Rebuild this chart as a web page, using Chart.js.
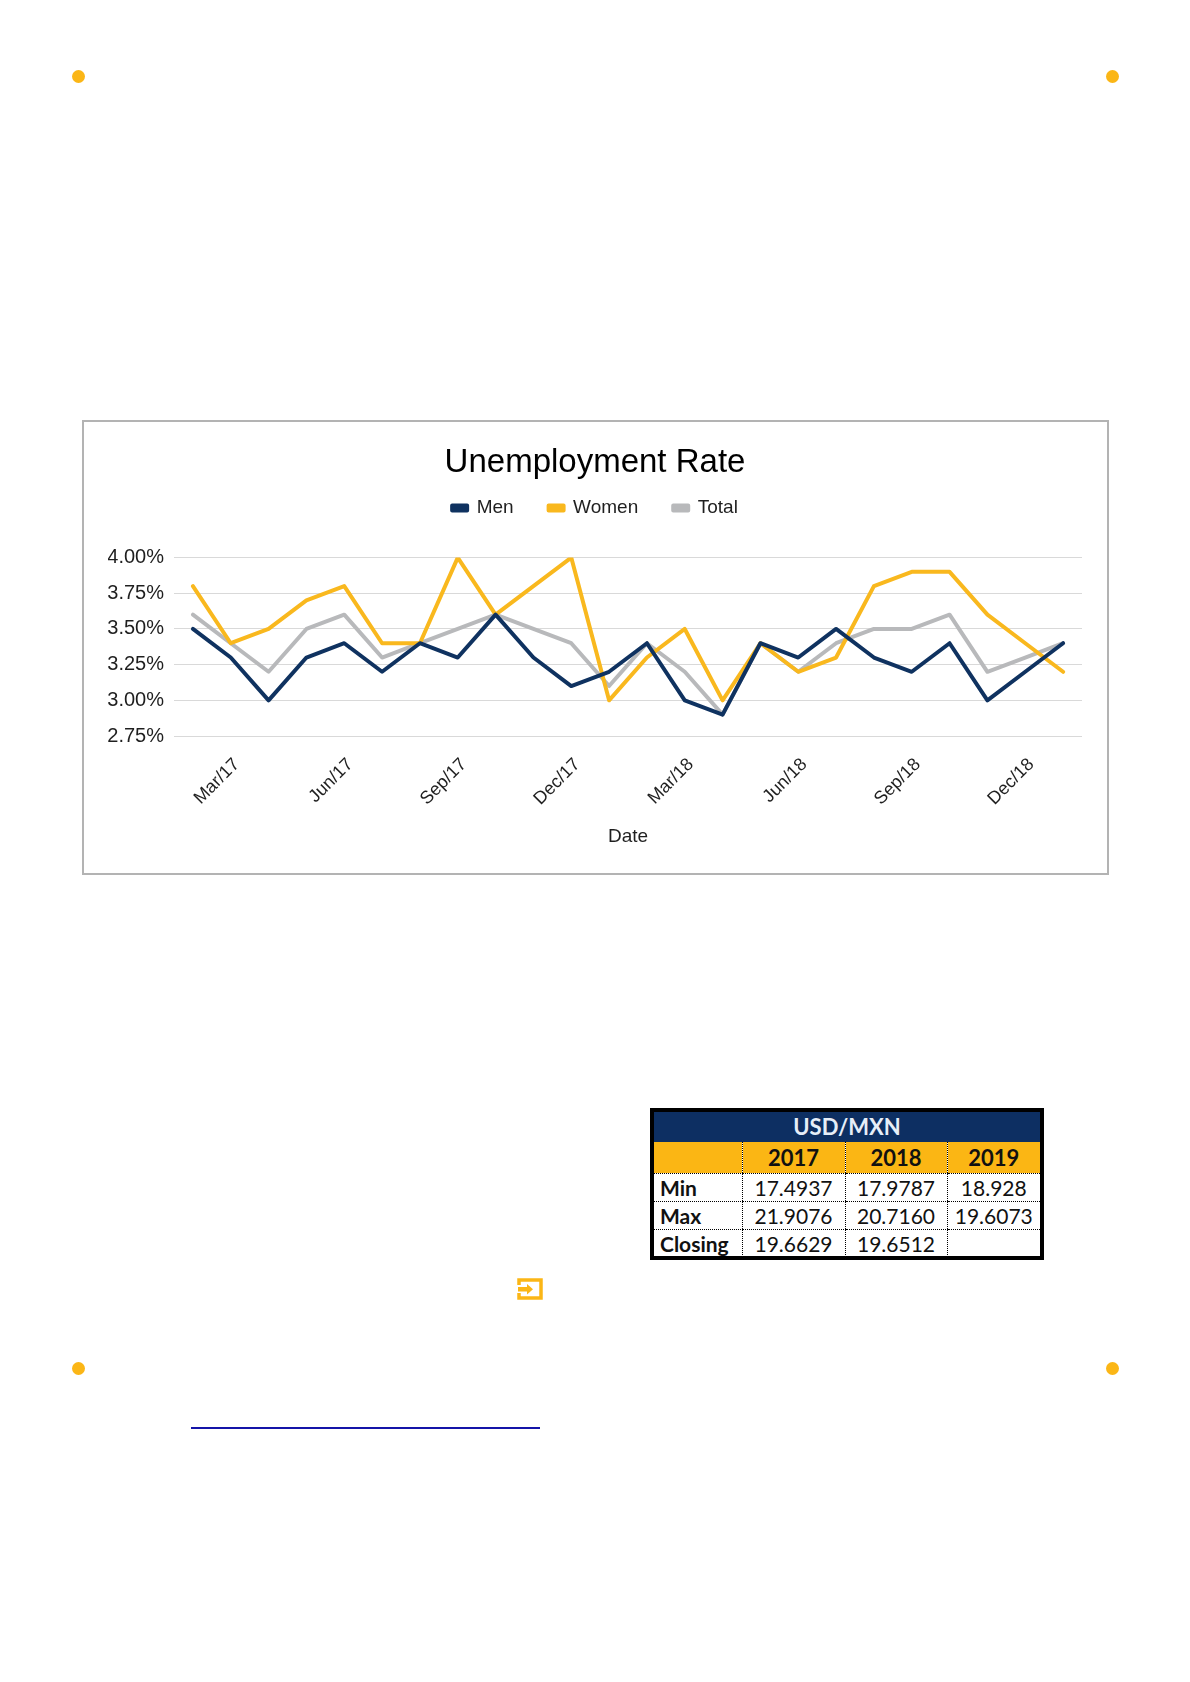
<!DOCTYPE html>
<html>
<head>
<meta charset="utf-8">
<script src="https://cdn.jsdelivr.net/npm/chart.js@4.4.1/dist/chart.umd.min.js"></script>
<style>
    html, body { margin: 0; padding: 0; background: #fff; }
    body { width: 1190px; height: 1682px; position: relative; overflow: hidden; }
    .dot { position: absolute; width: 13px; height: 13px; border-radius: 50%; background: #fbb616; }
    #chartBox {
        position: absolute; left: 82px; top: 420px; width: 1027px; height: 455px;
        border: 2px solid #b3b3b3; box-sizing: border-box; background: #fff;
    }
    #chartBox canvas { display: block; }
    #fx {
        position: absolute; left: 650px; top: 1108px; width: 394px; height: 152px;
        border: 4px solid #000; box-sizing: border-box;
        font-family: Lato, 'Open Sans', sans-serif; font-size: 21px; color: #111;
    }
    #fx table { border-collapse: collapse; width: 100%; table-layout: fixed; }
    #fx td { padding: 0; height: 27px; line-height: 27px; text-align: center; white-space: nowrap; overflow: hidden; }
    #fx .head td { background: #0d2f62; color: #e6eef8; font-weight: bold; height: 30px; line-height: 30px; font-size: 22px; }
    #fx .years td { background: #fbb614; font-weight: bold; height: 31px; line-height: 31px; font-size: 22px; border-bottom: 1.5px dotted #000; }
    #fx .years td + td, #fx .row td + td { border-left: 1.5px dotted #000; }
    #fx .row td { border-bottom: 1.5px dotted #000; }
    #fx .row.last td { border-bottom: none; }
    #fx td.lbl { text-align: left; padding-left: 6px; font-weight: bold; }
    #icon { position: absolute; left: 517px; top: 1278px; }
    #link { position: absolute; left: 191px; top: 1427px; width: 349px; height: 2px; background: #1414a8; }
</style>
</head>
<body>
<div class="dot" style="left:72px; top:70px;"></div>
<div class="dot" style="left:1106px; top:70px;"></div>
<div class="dot" style="left:72px; top:1362px;"></div>
<div class="dot" style="left:1106px; top:1362px;"></div>

<div id="chartBox"><canvas id="unempChart" width="1023" height="451"></canvas></div>

<div id="fx">
    <table>
        <colgroup><col style="width:88px"><col style="width:103px"><col style="width:102px"><col></colgroup>
        <tr class="head"><td colspan="4">USD/MXN</td></tr>
        <tr class="years"><td></td><td>2017</td><td>2018</td><td>2019</td></tr>
        <tr class="row"><td class="lbl">Min</td><td>17.4937</td><td>17.9787</td><td>18.928</td></tr>
        <tr class="row"><td class="lbl">Max</td><td>21.9076</td><td>20.7160</td><td>19.6073</td></tr>
        <tr class="row last"><td class="lbl">Closing</td><td>19.6629</td><td>19.6512</td><td></td></tr>
    </table>
</div>

<svg id="icon" width="26" height="22" viewBox="0 0 26 22">
    <path d="M2 7 V2 H24 V20 H2 V15" fill="none" stroke="#fbb616" stroke-width="3.5"/>
    <rect x="1" y="9" width="10" height="4.5" fill="#fbb616"/>
    <polygon points="10,6 16,11.25 10,16.5" fill="#fbb616"/>
</svg>
<div id="link"></div>

<script>
// monthly unemployment rate (%), Feb/17 .. Jan/19
var months = ['Feb/17', 'Mar/17', 'Apr/17', 'May/17', 'Jun/17', 'Jul/17', 'Aug/17', 'Sep/17',
              'Oct/17', 'Nov/17', 'Dec/17', 'Jan/18', 'Feb/18', 'Mar/18', 'Apr/18', 'May/18',
              'Jun/18', 'Jul/18', 'Aug/18', 'Sep/18', 'Oct/18', 'Nov/18', 'Dec/18', 'Jan/19'];
var men   = [3.5, 3.3, 3.0, 3.3, 3.4, 3.2, 3.4, 3.3, 3.6, 3.3, 3.1, 3.2,
             3.4, 3.0, 2.9, 3.4, 3.3, 3.5, 3.3, 3.2, 3.4, 3.0, 3.2, 3.4];
var women = [3.8, 3.4, 3.5, 3.7, 3.8, 3.4, 3.4, 4.0, 3.6, 3.8, 4.0, 3.0,
             3.3, 3.5, 3.0, 3.4, 3.2, 3.3, 3.8, 3.9, 3.9, 3.6, 3.4, 3.2];
var total = [3.6, 3.4, 3.2, 3.5, 3.6, 3.3, 3.4, 3.5, 3.6, 3.5, 3.4, 3.1,
             3.4, 3.2, 2.9, 3.4, 3.2, 3.4, 3.5, 3.5, 3.6, 3.2, 3.3, 3.4];
var yTicks = [2.75, 3.00, 3.25, 3.50, 3.75, 4.00];

var FONT = "'Liberation Sans', Arial, sans-serif";
var TEXT = '#1f1f1f';

// extra room under the legend, like Excel leaves before the plot area
var legendGap = {
    id: 'legendGap',
    beforeInit: function (chart) {
        var fit = chart.legend.fit;
        chart.legend.fit = function () {
            fit.bind(chart.legend)();
            this.height += 30;
        };
    }
};

function series(label, data, color) {
    return {
        label: label,
        data: data,
        borderColor: color,
        backgroundColor: color,
        borderWidth: 4,
        pointRadius: 0,
        pointHoverRadius: 0,
        tension: 0,
        fill: false,
        borderJoinStyle: 'round',
        borderCapStyle: 'round'
    };
}

var ctx = document.getElementById('unempChart').getContext('2d');
var unempChart = new Chart(ctx, {
    type: 'line',
    data: {
        labels: months,
        datasets: [
            series('Men', men, '#0f3260'),
            series('Women', women, '#f9b81e'),
            series('Total', total, '#b8b9bb')
        ]
    },
    plugins: [legendGap],
    options: {
        responsive: false,
        animation: false,
        devicePixelRatio: 1,
        layout: { padding: { left: 24, right: 25, top: 0, bottom: 0 } },
        plugins: {
            title: {
                display: true,
                text: 'Unemployment Rate',
                color: '#000',
                font: { family: FONT, size: 33, weight: 'normal' },
                padding: { top: 21, bottom: -19 }
            },
            legend: {
                display: true,
                labels: {
                    color: TEXT,
                    font: { family: FONT, size: 19 },
                    boxWidth: 15,
                    boxHeight: 5,
                    padding: 35
                }
            },
            tooltip: { enabled: false }
        },
        scales: {
            x: {
                offset: true,
                grid: { display: false },
                border: { display: false },
                ticks: {
                    autoSkip: false,
                    minRotation: 45,
                    maxRotation: 45,
                    padding: 10,
                    labelOffset: 6,
                    color: TEXT,
                    font: { family: FONT, size: 18 },
                    callback: function (value, index) {
                        return index % 3 === 1 ? months[index] : '';
                    }
                },
                title: {
                    display: true,
                    text: 'Date',
                    color: TEXT,
                    font: { family: FONT, size: 19 },
                    padding: { top: 4, bottom: 25 }
                },
                afterFit: function (scale) { scale.height = 137; }
            },
            y: {
                min: 2.75,
                max: 4.0,
                afterBuildTicks: function (scale) {
                    scale.ticks = yTicks.map(function (v) { return { value: v }; });
                },
                grid: { color: '#d9d9d9', lineWidth: 1, drawTicks: false },
                border: { display: false },
                ticks: {
                    padding: 10,
                    color: TEXT,
                    font: { family: FONT, size: 20 },
                    callback: function (value) { return value.toFixed(2) + '%'; }
                },
                afterFit: function (scale) { scale.width = 66; }
            }
        }
    }
});
</script>
</body>
</html>
